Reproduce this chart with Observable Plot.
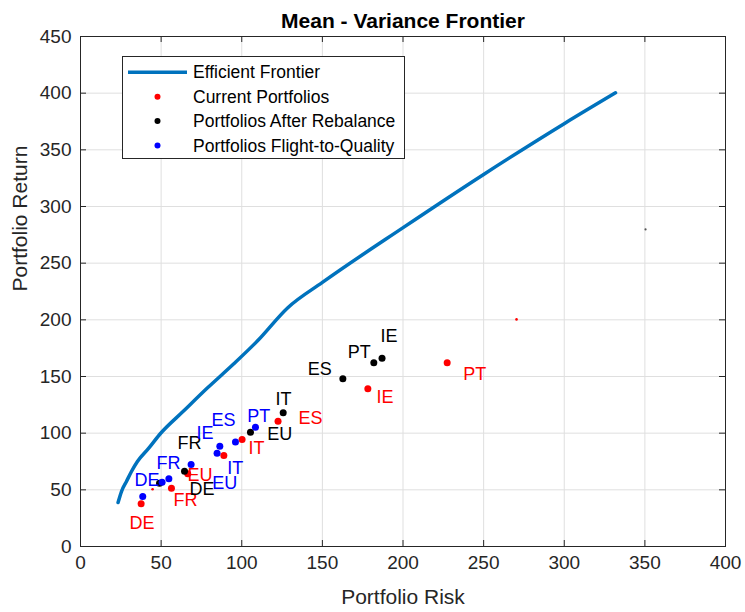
<!DOCTYPE html>
<html>
<head>
<meta charset="utf-8">
<script src="https://cdn.jsdelivr.net/npm/d3@7"></script>
<script src="https://cdn.jsdelivr.net/npm/@observablehq/plot@0.6"></script>
<style>
  html, body { margin: 0; padding: 0; background: #fff; }
  #chart { width: 745px; height: 612px; }
</style>
</head>
<body>
<div id="chart"></div>
<script>
// ---------- data ----------
const frontierRisk   = [23.3, 25.4, 28.5, 31.6, 35.3, 42.2, 49.6, 63.9, 78.8, 94.9, 109.8, 128.4, 150.0, 200.3, 250.0, 300.2, 331.8];
const frontierReturn = [38.8, 48.5, 57.4, 66.2, 75.0, 86.5, 99.7, 119.5, 140.0, 161.0, 181.5, 210.5, 233.0, 281.6, 328.3, 373.3, 400.3];

const currentRisk   = [37.6, 56.4, 66.5, 88.9, 100.2, 122.5, 178.2, 227.4];
const currentReturn = [37.7, 51.5, 64.1, 80.3, 94.4, 110.6, 139.2, 162.1];

const rebalRisk   = [49.0, 64.5, 105.4, 125.7, 162.7, 181.9, 187.0];
const rebalReturn = [55.9, 66.5, 100.9, 118.0, 148.0, 162.1, 166.2];

const flightRisk   = [38.6, 50.6, 54.8, 68.6, 84.7, 86.4, 96.1, 108.5];
const flightReturn = [44.1, 56.8, 59.7, 72.4, 82.3, 88.5, 92.1, 105.3];

// faint stray marks visible in the figure
const strayRedRisk = [44.7, 270.4];
const strayRedReturn = [50.5, 200.4];
const strayDarkRisk = [350.4];
const strayDarkReturn = [279.8];

// text labels (anchor point of each country label, data units)
const currentLabels = ["DE", "FR", "EU", "IT", "ES", "IE", "PT"];
const currentLabelX = [30.4, 57.7, 66.4, 104.2, 135.2, 183.6, 237.3];
const currentLabelY = [20.3, 40.6, 63.1, 86.9, 113.4, 131.5, 152.4];

const rebalLabels = ["IE", "PT", "ES", "IT", "EU", "FR", "DE"];
const rebalLabelX = [186.0, 165.8, 140.9, 120.9, 115.8, 60.2, 67.6];
const rebalLabelY = [185.8, 171.2, 156.5, 129.7, 98.9, 91.4, 50.3];

const flightLabels = ["DE", "FR", "IE", "ES", "PT", "IT", "EU"];
const flightLabelX = [33.5, 47.1, 71.9, 81.2, 103.4, 91.0, 81.7];
const flightLabelY = [58.3, 73.7, 100.2, 111.2, 114.7, 69.3, 55.6];

const xTicks = [0, 50, 100, 150, 200, 250, 300, 350, 400];
const yTicks = [0, 50, 100, 150, 200, 250, 300, 350, 400, 450];

const legendLabels = ["Efficient Frontier", "Current Portfolios", "Portfolios After Rebalance", "Portfolios Flight-to-Quality"];
const legendKinds  = ["line", "dot", "dot", "dot"];

const titleText = "Mean - Variance Frontier";
const xLabel = "Portfolio Risk";
const yLabel = "Portfolio Return";

// ---------- styling ----------
const W = 745, H = 612;
const M = {top: 36, right: 20, bottom: 66, left: 80};
const innerW = W - M.left - M.right;
const innerH = H - M.top - M.bottom;
const tickLen = 6;
const axisColor = "#262626";
const colors = {frontier: "#0072BD", current: "#ff0000", rebal: "#000000", flight: "#0000ff"};
const legendColors = [colors.frontier, colors.current, colors.rebal, colors.flight];
const font = "'Liberation Sans', Arial, Helvetica, sans-serif";

const zip = (xs, ys) => xs.map((x, i) => ({x, y: ys[i]}));
const zipLab = (ls, xs, ys) => ls.map((t, i) => ({t, x: xs[i], y: ys[i]}));

const frontier = zip(frontierRisk, frontierReturn);
const current = zip(currentRisk, currentReturn);
const rebal = zip(rebalRisk, rebalReturn);
const flight = zip(flightRisk, flightReturn);
const strayRed = zip(strayRedRisk, strayRedReturn);
const strayDark = zip(strayDarkRisk, strayDarkReturn);

const labelMark = (data, fill) => Plot.text(data, {
  x: "x", y: "y", text: "t", fill, fontSize: 18, textAnchor: "start", lineAnchor: "middle"
});

const svg = Plot.plot({
  width: W, height: H,
  marginTop: M.top, marginRight: M.right, marginBottom: M.bottom, marginLeft: M.left,
  style: {fontFamily: font, background: "#fff", overflow: "visible"},
  x: {domain: [0, 400]},
  y: {domain: [0, 450]},
  marks: [
    Plot.gridX(xTicks, {stroke: "#dfdfdf", strokeOpacity: 1}),
    Plot.gridY(yTicks, {stroke: "#dfdfdf", strokeOpacity: 1}),
    // inward ticks on all four sides
    Plot.tickX(xTicks, {x: d => d, stroke: axisColor, insetTop: innerH - tickLen}),
    Plot.tickX(xTicks, {x: d => d, stroke: axisColor, insetBottom: innerH - tickLen}),
    Plot.tickY(yTicks, {y: d => d, stroke: axisColor, insetRight: innerW - tickLen}),
    Plot.tickY(yTicks, {y: d => d, stroke: axisColor, insetLeft: innerW - tickLen}),
    Plot.axisX(xTicks, {anchor: "bottom", tickSize: 0, tickPadding: 9, fontSize: 19, fill: axisColor, label: null}),
    Plot.axisY(yTicks, {anchor: "left", tickSize: 0, tickPadding: 9, fontSize: 19, fill: axisColor, label: null}),
    Plot.frame({stroke: axisColor, strokeWidth: 1}),
    Plot.line(frontier, {x: "x", y: "y", stroke: colors.frontier, strokeWidth: 3.5, curve: "monotone-x"}),
    Plot.dot(strayRed, {x: "x", y: "y", r: 1.3, fill: colors.current, stroke: "none"}),
    Plot.dot(strayDark, {x: "x", y: "y", r: 1.1, fill: "#555", stroke: "none"}),
    Plot.dot(current, {x: "x", y: "y", r: 3.5, fill: colors.current, stroke: "none"}),
    labelMark(zipLab(currentLabels, currentLabelX, currentLabelY), colors.current),
    Plot.dot(rebal, {x: "x", y: "y", r: 3.5, fill: colors.rebal, stroke: "none"}),
    labelMark(zipLab(rebalLabels, rebalLabelX, rebalLabelY), colors.rebal),
    Plot.dot(flight, {x: "x", y: "y", r: 3.5, fill: colors.flight, stroke: "none"}),
    labelMark(zipLab(flightLabels, flightLabelX, flightLabelY), colors.flight),
    // title and axis labels
    Plot.text([titleText], {frameAnchor: "top", dy: -15.5, fontSize: 21, fontWeight: "bold", fill: "#000", lineAnchor: "middle"}),
    Plot.text([xLabel], {frameAnchor: "bottom", dy: 51, fontSize: 21, fill: axisColor, lineAnchor: "middle"}),
    Plot.text([yLabel], {frameAnchor: "left", dx: -60, rotate: -90, fontSize: 21, fill: axisColor, lineAnchor: "middle"})
  ]
});

// ---------- legend ----------
const g = d3.select(svg).append("g").attr("font-family", font).attr("text-anchor", "start");
const box = {x: 122.5, y: 56.5, w: 282, h: 102};
g.append("rect").attr("x", box.x).attr("y", box.y).attr("width", box.w).attr("height", box.h)
  .attr("fill", "#fff").attr("stroke", axisColor).attr("stroke-width", 1);
const rowY0 = 72.3, rowStep = 24.4;
legendLabels.forEach((lab, i) => {
  const yy = rowY0 + i * rowStep;
  if (legendKinds[i] === "line") {
    g.append("line").attr("x1", 128).attr("x2", 187).attr("y1", yy).attr("y2", yy)
      .attr("stroke", legendColors[i]).attr("stroke-width", 3.5);
  } else {
    g.append("circle").attr("cx", 157.5).attr("cy", yy).attr("r", 3)
      .attr("fill", legendColors[i]);
  }
  g.append("text").attr("x", 193).attr("y", yy).attr("dy", "0.35em")
    .attr("text-anchor", "start")
    .attr("font-size", 17.5).attr("fill", "#000").text(lab);
});

document.getElementById("chart").appendChild(svg);
</script>
</body>
</html>
